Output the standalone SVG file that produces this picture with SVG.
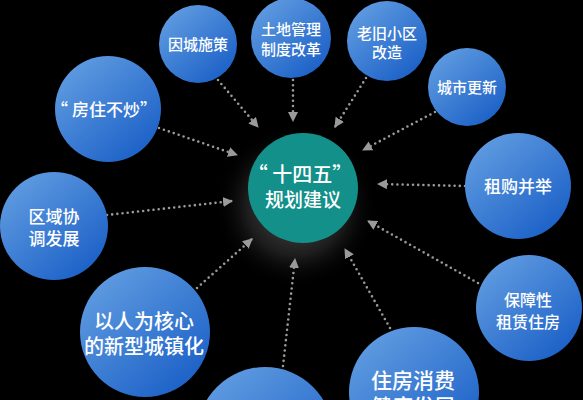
<svg xmlns="http://www.w3.org/2000/svg" width="583" height="400" viewBox="0 0 583 400">
<defs>
<linearGradient id="blue" x1="0.15" y1="0.1" x2="0.85" y2="0.9">
<stop offset="0" stop-color="#5e9ae0"/>
<stop offset="1" stop-color="#1c61c7"/>
</linearGradient>
<radialGradient id="glow" cx="0.5" cy="0.5" r="0.5">
<stop offset="0" stop-color="#6a6a6a" stop-opacity="0.9"/>
<stop offset="0.6" stop-color="#3a3a3a" stop-opacity="0.5"/>
<stop offset="1" stop-color="#000" stop-opacity="0"/>
</radialGradient>
<marker id="arr" viewBox="0 0 10 10" refX="9" refY="5" markerWidth="10" markerHeight="10" markerUnits="userSpaceOnUse" orient="auto">
<path d="M0,0 L10,5 L0,10 Z" fill="#9a9a9a"/>
</marker>
</defs>
<style>
.n{fill:url(#blue)}
.t{fill:#fff;font-family:"Noto Sans CJK SC","Noto Sans",sans-serif;text-anchor:middle;font-weight:500}
.c line{stroke:#9a9a9a;stroke-width:2.6;stroke-linecap:round;stroke-dasharray:0 5.2;marker-end:url(#arr)}
</style>
<rect width="583" height="400" fill="#000"/>
<circle cx="296" cy="206" r="82" fill="url(#glow)"/>
<g class="c" id="connectors">
<line x1="218" y1="80" x2="258" y2="127"/>
<line x1="293" y1="80" x2="293" y2="121"/>
<line x1="366" y1="78" x2="335" y2="127"/>
<line x1="435" y1="112" x2="363" y2="150"/>
<line x1="465" y1="186" x2="378" y2="184"/>
<line x1="478" y1="283" x2="368" y2="221"/>
<line x1="390" y1="328" x2="345" y2="249"/>
<line x1="283" y1="366" x2="295" y2="259"/>
<line x1="197" y1="288" x2="252" y2="239"/>
<line x1="107" y1="215" x2="232" y2="201"/>
<line x1="159" y1="128" x2="237" y2="155"/>
</g>
<g id="center">
<circle cx="303" cy="188" r="55" fill="#139089"/>
<text class="t" font-size="20"><tspan x="300" y="182">“ 十四五”</tspan><tspan x="303" y="207" font-size="19">规划建议</tspan></text>
</g>
<g id="n1"><circle class="n" cx="198" cy="44" r="39"/><text class="t" x="198" y="50" font-size="15">因城施策</text></g>
<g id="n2"><circle class="n" cx="291" cy="38" r="40"/><text class="t" font-size="15"><tspan x="291" y="35">土地管理</tspan><tspan x="291" y="55">制度改革</tspan></text></g>
<g id="n3"><circle class="n" cx="387" cy="41" r="40"/><text class="t" font-size="15"><tspan x="387" y="39">老旧小区</tspan><tspan x="387" y="58">改造</tspan></text></g>
<g id="n4"><circle class="n" cx="467" cy="87" r="39"/><text class="t" x="467" y="93" font-size="15">城市更新</text></g>
<g id="n5"><circle class="n" cx="518" cy="186" r="53"/><text class="t" x="518" y="193" font-size="17">租购并举</text></g>
<g id="n6"><circle class="n" cx="529" cy="308" r="53"/><text class="t" font-size="16"><tspan x="528" y="306">保障性</tspan><tspan x="528" y="328">租赁住房</tspan></text></g>
<g id="n7"><circle class="n" cx="414" cy="392" r="65"/><text class="t" font-size="21"><tspan x="413" y="388">住房消费</tspan><tspan x="413" y="414">健康发展</tspan></text></g>
<g id="n8"><circle class="n" cx="265" cy="435" r="68"/></g>
<g id="n9"><circle class="n" cx="145" cy="332" r="65"/><text class="t" font-size="20"><tspan x="144" y="329">以人为核心</tspan><tspan x="144" y="354">的新型城镇化</tspan></text></g>
<g id="n10"><circle class="n" cx="54" cy="226" r="54"/><text class="t" font-size="17"><tspan x="54" y="223">区域协</tspan><tspan x="54" y="245">调发展</tspan></text></g>
<g id="n11"><circle class="n" cx="108" cy="109" r="53"/><text class="t" x="104" y="116" font-size="17">“ 房住不炒”</text></g>
</svg>
